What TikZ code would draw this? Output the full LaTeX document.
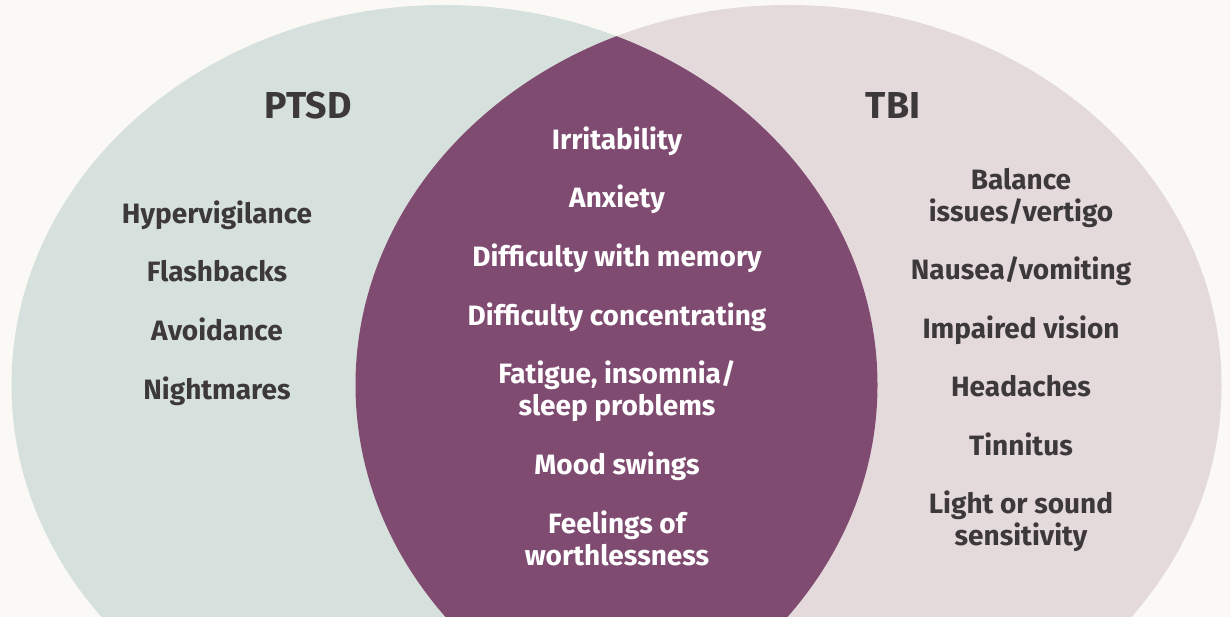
\documentclass[tikz,border=0pt]{standalone}
\usepackage{fontspec}
\setmainfont{Fira Sans}
\definecolor{bgc}{HTML}{FAF9F5}
\definecolor{ptsdc}{HTML}{D6E1DD}
\definecolor{tbic}{HTML}{E5DADB}
\definecolor{lensc}{HTML}{7F4B71}
\definecolor{txtc}{HTML}{3D393A}
\begin{document}
\begin{tikzpicture}[x=1pt,y=-1pt,
  title/.style={font=\bfseries\fontsize{37.5}{40}\selectfont, text=txtc, anchor=base, inner sep=0pt},
  item/.style={font=\bfseries\fontsize{28}{32}\selectfont, text=txtc, anchor=base, inner sep=0pt, align=center},
  lensitem/.style={item, text=white}]
\useasboundingbox (0,0) rectangle (1230,617);
\clip (0,0) rectangle (1230,617);
\fill[bgc] (0,0) rectangle (1230,617);
\fill[ptsdc] (444.5,385) ellipse [x radius=433pt, y radius=380pt];
\fill[tbic] (788.5,385) ellipse [x radius=433pt, y radius=380pt];
\begin{scope}
  \clip (444.5,385) ellipse [x radius=433pt, y radius=380pt];
  \fill[lensc] (788.5,385) ellipse [x radius=433pt, y radius=380pt];
\end{scope}
% titles
\node[title] (ptsd) at (308,119) {PTSD};
\node[title] (tbi) at (893,119) {TBI};
% PTSD items
\node[item] (l1) at (217,223.5) {Hypervigilance};
\node[item] (l2) at (217,281.5) {Flashbacks};
\node[item] (l3) at (217,340.5) {Avoidance};
\node[item] (l4) at (217,399.5) {Nightmares};
% shared items
\node[lensitem] (m1) at (617,149.5) {Irritability};
\node[lensitem] (m2) at (617,207.5) {Anxiety};
\node[lensitem] (m3) at (617,266.5) {Difficulty with memory};
\node[lensitem] (m4) at (617,325.5) {Difficulty concentrating};
\node[lensitem] (m5) at (617,415.5) {Fatigue, insomnia/\\sleep problems};
\node[lensitem] (m6) at (617,474.5) {Mood swings};
\node[lensitem] (m7) at (617,565.5) {Feelings of\\worthlessness};
% TBI items
\node[item] (r1) at (1021,221.5) {Balance\\issues/vertigo};
\node[item] (r2) at (1021,279.5) {Nausea/vomiting};
\node[item] (r3) at (1021,338.5) {Impaired vision};
\node[item] (r4) at (1021,396.5) {Headaches};
\node[item] (r5) at (1021,455.5) {Tinnitus};
\node[item] (r6) at (1021,545.5) {Light or sound\\sensitivity};
\end{tikzpicture}
\end{document}
